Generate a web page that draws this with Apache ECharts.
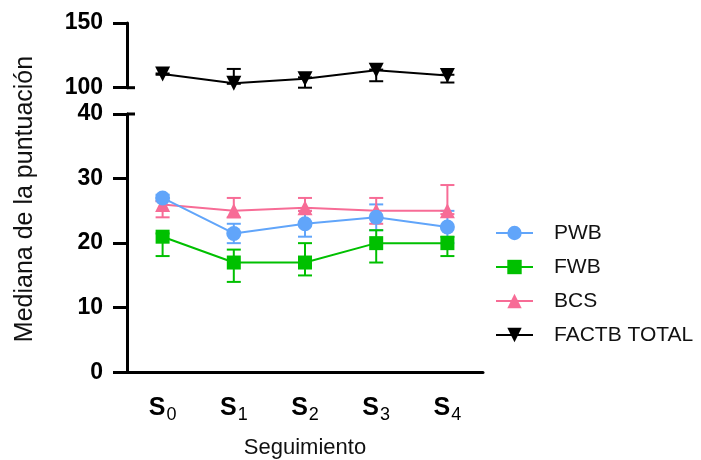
<!DOCTYPE html>
<html>
<head>
<meta charset="utf-8">
<script src="https://cdn.jsdelivr.net/npm/echarts@6/dist/echarts.min.js"></script>
<style>
  html, body { margin: 0; padding: 0; background: #fff; }
  #chart { width: 701px; height: 460px; }
</style>
</head>
<body>
<div id="chart"></div>
<script>
// Follow-up sessions (S with subscript index)
const categories = ['S0', 'S1', 'S2', 'S3', 'S4'];
const subscripts = ['0', '1', '2', '3', '4'];

// Medians with lower / upper error limits
const pwb = [27, 21.5, 23, 24, 22.5];
const pwbLow = [26.5, 20, 21, 22, 20];
const pwbHigh = [27.5, 23, 25, 26, 25];

const fwb = [21, 17, 17, 20, 20];
const fwbLow = [18, 14, 15, 17, 18];
const fwbHigh = [21.5, 19, 20, 22, 21];

const bcs = [26, 25, 25.5, 25, 25];
const bcsLow = [24, 24, 25, 23, 24.5];
const bcsHigh = [26.5, 27, 27, 27, 29];

const factb = [110.5, 103.5, 107, 113.5, 109.5];
const factbLow = [110, 103, 100, 105, 104];
const factbHigh = [111, 114.5, 108, 114, 110];

// Axis tick values
const lowerTicks = [0, 10, 20, 30, 40];
const upperTicks = [100, 150];

const FONT = '"Liberation Sans", Arial, Helvetica, sans-serif';
const BLUE = '#61A5FA', GREEN = '#00C000', PINK = '#F76C96', BLACK = '#000000';
const GRID_LEFT = 127, GRID_WIDTH = 356;

function errData(lo, hi) {
  return lo.map((v, i) => [i, v, hi[i]]);
}

// Vertical error bar with caps at both ends
function errorBarSeries(lo, hi, color, axisIdx) {
  return {
    type: 'custom',
    xAxisIndex: axisIdx,
    yAxisIndex: axisIdx,
    z: 1,
    silent: true,
    data: errData(lo, hi),
    renderItem: function (params, api) {
      const i = api.value(0);
      const a = api.coord([i, api.value(1)]);
      const b = api.coord([i, api.value(2)]);
      const half = 7;
      const style = { stroke: color, lineWidth: 2 };
      return {
        type: 'group',
        children: [
          { type: 'line', shape: { x1: a[0], y1: a[1], x2: b[0], y2: b[1] }, style: style },
          { type: 'line', shape: { x1: a[0] - half, y1: a[1], x2: a[0] + half, y2: a[1] }, style: style },
          { type: 'line', shape: { x1: b[0] - half, y1: b[1], x2: b[0] + half, y2: b[1] }, style: style }
        ]
      };
    }
  };
}

function lineSeries(name, data, color, symbol, size, axisIdx, rotate) {
  return {
    type: 'line',
    name: name,
    xAxisIndex: axisIdx,
    yAxisIndex: axisIdx,
    data: data,
    symbol: symbol,
    symbolSize: size,
    symbolRotate: rotate || 0,
    z: 3,
    lineStyle: { color: color, width: 2 },
    itemStyle: { color: color, opacity: 1 },
    emphasis: { disabled: true },
    animation: false
  };
}

const axisLineStyle = { color: BLACK, width: 3 };
const tickLabelStyle = { fontFamily: FONT, fontSize: 23, fontWeight: 'bold', color: BLACK, margin: 24 };

const chart = echarts.init(document.getElementById('chart'), null, { renderer: 'canvas' });

const option = {
  backgroundColor: '#ffffff',
  animation: false,
  grid: [
    { left: GRID_LEFT, top: 23, width: GRID_WIDTH, height: 64.7, outerBoundsMode: 'none', containLabel: false },
    { left: GRID_LEFT, top: 114, width: GRID_WIDTH, height: 258.3, outerBoundsMode: 'none', containLabel: false }
  ],
  xAxis: [
    { type: 'category', gridIndex: 0, data: categories, show: false, boundaryGap: true },
    {
      type: 'category', gridIndex: 1, data: categories, boundaryGap: true,
      axisLine: { lineStyle: axisLineStyle },
      axisTick: { alignWithLabel: true, length: 14, lineStyle: { color: BLACK, width: 3 } },
      axisLabel: {
        margin: 21,
        formatter: function (v, i) { return '{s|S}{n|' + subscripts[i] + '}'; },
        rich: {
          s: { fontFamily: FONT, fontSize: 25, fontWeight: 'bold', color: BLACK, lineHeight: 30 },
          n: { fontFamily: FONT, fontSize: 18, color: BLACK, padding: [13, 0, 0, 1], lineHeight: 30 }
        }
      },
      name: 'Seguimiento',
      nameLocation: 'middle',
      nameGap: 65,
      nameTextStyle: { fontFamily: FONT, fontSize: 22, color: '#111' }
    }
  ],
  yAxis: [
    {
      type: 'value', gridIndex: 0, min: upperTicks[0], max: upperTicks[upperTicks.length - 1], interval: 50,
      axisLine: { show: true, lineStyle: axisLineStyle },
      axisTick: { show: true, length: 14, lineStyle: { color: BLACK, width: 3 } },
      axisLabel: tickLabelStyle,
      splitLine: { show: false }
    },
    {
      type: 'value', gridIndex: 1, min: lowerTicks[0], max: lowerTicks[lowerTicks.length - 1], interval: 10,
      axisLine: { show: true, lineStyle: axisLineStyle },
      axisTick: { show: true, length: 14, lineStyle: { color: BLACK, width: 3 } },
      axisLabel: tickLabelStyle,
      splitLine: { show: false }
    }
  ],
  legend: {
    orient: 'vertical',
    left: 495,
    top: 222,
    itemWidth: 37,
    itemHeight: 18,
    itemGap: 12,
    padding: 0,
    selectedMode: false,
    textStyle: { fontFamily: FONT, fontSize: 21, color: '#111', lineHeight: 22, padding: [0, 0, 0, 16] },
    data: ['PWB', 'FWB', 'BCS', 'FACTB TOTAL']
  },
  series: [
    errorBarSeries(pwbLow, pwbHigh, BLUE, 1),
    errorBarSeries(fwbLow, fwbHigh, GREEN, 1),
    errorBarSeries(bcsLow, bcsHigh, PINK, 1),
    errorBarSeries(factbLow, factbHigh, BLACK, 0),
    lineSeries('BCS', bcs, PINK, 'triangle', 15, 1),
    lineSeries('FWB', fwb, GREEN, 'rect', 14, 1),
    lineSeries('PWB', pwb, BLUE, 'circle', 15, 1),
    lineSeries('FACTB TOTAL', factb, BLACK, 'triangle', 15, 0, 180)
  ],
  graphic: [
    {
      type: 'text',
      x: 25, y: 199,
      rotation: Math.PI / 2,
      style: {
        text: 'Mediana de la puntuación',
        fontFamily: FONT, fontSize: 25, fill: '#111',
        align: 'center', verticalAlign: 'middle'
      }
    }
  ]
};

chart.setOption(option);

// Axis-break marks: the ticks at the top of the lower axis and the bottom of the upper axis cross the line
const yTop = chart.convertToPixel({ yAxisIndex: 1 }, lowerTicks[lowerTicks.length - 1]);
const yBreak = chart.convertToPixel({ yAxisIndex: 0 }, upperTicks[0]);
chart.setOption({
  graphic: [
    option.graphic[0],
    { type: 'line', shape: { x1: GRID_LEFT, y1: yTop, x2: GRID_LEFT + 8, y2: yTop }, style: { stroke: BLACK, lineWidth: 3 } },
    { type: 'line', shape: { x1: GRID_LEFT, y1: yBreak, x2: GRID_LEFT + 8, y2: yBreak }, style: { stroke: BLACK, lineWidth: 3 } }
  ]
});
</script>
</body>
</html>
